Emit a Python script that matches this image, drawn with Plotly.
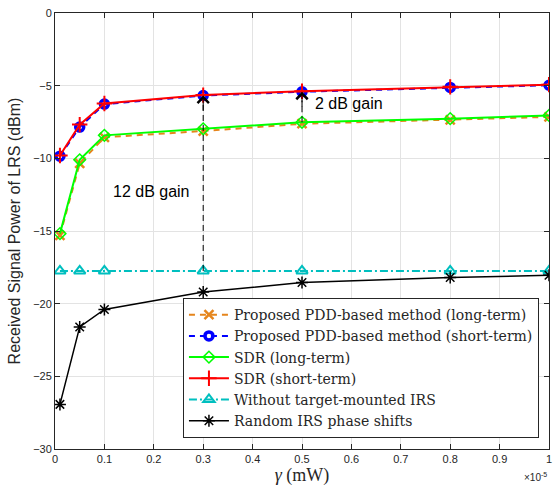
import plotly.graph_objects as go

# ---- data (x in units of 1e-5 mW) ----
gamma = [0.01, 0.05, 0.1, 0.3, 0.5, 0.8, 1.0]
pdd_long = [-15.3, -10.35, -8.55, -8.12, -7.62, -7.35, -7.15]
pdd_short = [-9.85, -7.85, -6.27, -5.68, -5.42, -5.12, -4.97]
sdr_long = [-15.18, -10.1, -8.42, -7.97, -7.52, -7.27, -7.05]
sdr_short = [-9.8, -7.68, -6.23, -5.65, -5.38, -5.08, -4.93]
no_irs = [-17.75, -17.75, -17.75, -17.75, -17.75, -17.75, -17.75]
random_irs = [-26.93, -21.6, -20.4, -19.2, -18.55, -18.2, -18.05]

x_ticks = [0, 0.1, 0.2, 0.3, 0.4, 0.5, 0.6, 0.7, 0.8, 0.9, 1]
x_ticktext = ["0", "0.1", "0.2", "0.3", "0.4", "0.5", "0.6", "0.7", "0.8", "0.9", "1"]
y_ticks = [-30, -25, -20, -15, -10, -5, 0]

names = [
    "Proposed PDD-based method (long-term)",
    "Proposed PDD-based method (short-term)",
    "SDR (long-term)",
    "SDR (short-term)",
    "Without target-mounted IRS",
    "Random IRS phase shifts",
]

fig = go.Figure()

fig.add_trace(go.Scatter(x=gamma, y=pdd_long, name=names[0], mode="lines+markers",
                         line=dict(color="#E5851C", width=2, dash="6px,5px"),
                         marker=dict(symbol="x-thin", size=9, line=dict(color="#E5851C", width=2.5))))
fig.add_trace(go.Scatter(x=gamma, y=pdd_short, name=names[1], mode="lines+markers",
                         line=dict(color="#0000FF", width=2, dash="6px,5px"),
                         marker=dict(symbol="circle-open", size=8, color="#0000FF",
                                     line=dict(color="#0000FF", width=3.5))))
fig.add_trace(go.Scatter(x=gamma, y=sdr_long, name=names[2], mode="lines+markers",
                         line=dict(color="#00FF00", width=2),
                         marker=dict(symbol="diamond-open", size=9, color="#00FF00",
                                     line=dict(color="#00FF00", width=1.5))))
fig.add_trace(go.Scatter(x=gamma, y=sdr_short, name=names[3], mode="lines+markers",
                         line=dict(color="#FF0000", width=2),
                         marker=dict(symbol="cross-thin", size=11, color="#FF0000",
                                     line=dict(color="#FF0000", width=2))))
fig.add_trace(go.Scatter(x=gamma, y=no_irs, name=names[4], mode="lines+markers",
                         line=dict(color="#00BFBF", width=2, dash="8px,3px,2px,3px"),
                         marker=dict(symbol="triangle-up-open", size=10, color="#00BFBF",
                                     line=dict(color="#00BFBF", width=2))))
fig.add_trace(go.Scatter(x=gamma, y=random_irs, name=names[5], mode="lines+markers",
                         line=dict(color="#000000", width=1.5),
                         marker=dict(symbol="asterisk-open", size=10, color="#000000",
                                     line=dict(color="#000000", width=1.5))))

# ---- gain arrows (dashed shafts + heads), anchored to the data ----
i12 = gamma.index(0.3)
i2 = gamma.index(0.5)
fig.add_shape(type="line", xref="x", yref="y", x0=gamma[i12], x1=gamma[i12],
              y0=no_irs[i12], y1=pdd_short[i12] - 0.6,
              line=dict(color="#000000", width=1, dash="6px,4px"), layer="above")
fig.add_shape(type="line", xref="x", yref="y", x0=gamma[i2], x1=gamma[i2],
              y0=sdr_long[i2], y1=pdd_short[i2] - 0.6,
              line=dict(color="#000000", width=1, dash="6px,4px"), layer="above")
for idx in (i12, i2):
    fig.add_annotation(x=gamma[idx], y=pdd_short[idx], xref="x", yref="y",
                       ax=0, ay=16, showarrow=True, arrowhead=4, arrowsize=2.2,
                       arrowwidth=1, arrowcolor="#000000", text=" ", borderpad=0,
                       font=dict(size=1), standoff=0)

fig.add_annotation(x=0.196, y=-12.25, xref="x", yref="y", text="12 dB gain",
                   showarrow=False, font=dict(family="Liberation Sans", size=16, color="#000000"))
fig.add_annotation(x=0.522, y=-6.24, xref="x", yref="y", text="2 dB gain", xanchor="left",
                   showarrow=False, font=dict(family="Liberation Sans", size=16, color="#000000"))
fig.add_annotation(x=1.0, y=0, xref="paper", yref="paper", yshift=-20, xanchor="right",
                   yanchor="top", text="×10<sup>-5</sup>", showarrow=False,
                   font=dict(family="Liberation Sans", size=10, color="#262626"))

axis_common = dict(showgrid=True, gridcolor="#E3E3E3", gridwidth=1, zeroline=False,
                   showline=True, linecolor="#262626", linewidth=1, mirror="allticks",
                   ticks="inside", ticklen=5, tickcolor="#262626",
                   tickfont=dict(family="Liberation Sans", size=11, color="#262626"))

fig.update_xaxes(range=[0, 1], tickvals=x_ticks, ticktext=x_ticktext,
                 title=dict(text="<i>γ</i> (mW)", standoff=4,
                            font=dict(family="Liberation Serif", size=18, color="#262626")),
                 **axis_common)
fig.update_yaxes(range=[-30, 0], tickvals=y_ticks,
                 title=dict(text="Received Signal Power of LRS (dBm)", standoff=8,
                            font=dict(family="Liberation Sans", size=16, color="#262626")),
                 **axis_common)

fig.update_layout(
    width=553, height=487,
    margin=dict(l=55, r=4, t=13, b=38, autoexpand=False),
    paper_bgcolor="white", plot_bgcolor="white",
    showlegend=True,
    legend=dict(x=0.259, y=0.025, xanchor="left", yanchor="bottom",
                bgcolor="white", bordercolor="#262626", borderwidth=1,
                font=dict(family="DejaVu Serif", size=14, color="#262626"),
                itemwidth=40, tracegroupgap=0),
)

fig.write_html("out.html")
